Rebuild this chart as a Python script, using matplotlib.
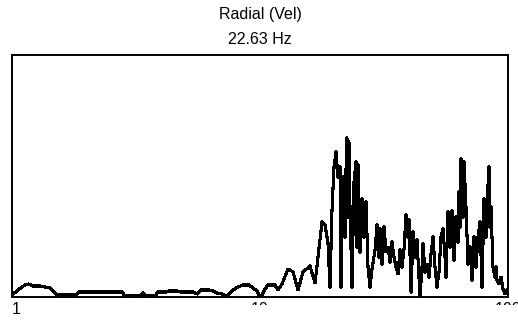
import matplotlib
matplotlib.use('Agg')
import matplotlib.pyplot as plt
from matplotlib.transforms import Bbox

# --------------------------------------------------------------------------------------
# Spectrum data (frequency in Hz, amplitude in velocity units)

freq = [1.00, 1.057, 1.128, 1.171, 1.215, 1.297, 1.359, 1.423, 1.477, 1.519,
        1.812, 1.863, 2.777, 2.856, 3.282, 3.375, 3.470, 3.772, 3.879, 4.178,
        4.296, 4.628, 4.803, 5.368, 5.572, 5.783, 6.228, 6.464, 6.709, 7.028,
        7.294, 7.499, 7.782, 8.153, 8.540, 9.029, 9.372, 9.725, 10.00, 10.19,
        10.48, 10.77, 11.49, 11.82, 12.27, 12.97, 13.59, 14.23, 14.91, 15.91,
        16.67, 17.14, 17.78, 18.29, 18.80, 19.15, 19.51, 19.88, 20.25, 20.63,
        21.02, 21.21, 21.61, 22.01, 22.22, 22.42, 22.63, 22.84, 23.06, 23.49,
        23.93, 24.38, 24.60, 24.84, 25.30, 25.78, 26.26, 26.75, 27.26, 27.76,
        28.29, 29.09, 29.64, 30.19, 30.47, 31.04, 31.62, 32.22, 32.82, 33.44,
        34.07, 34.70, 35.36, 36.02, 36.69, 37.38, 38.08, 38.80, 39.53, 39.90,
        40.65, 41.41, 42.17, 42.96, 43.77, 44.18, 45.01, 45.43, 46.28, 47.15,
        48.03, 48.93, 49.85, 50.78, 51.73, 52.70, 53.68, 54.69, 55.72, 56.23,
        57.29, 58.36, 59.45, 60.57, 61.70, 62.86, 63.45, 64.04, 64.64, 65.85,
        66.47, 67.71, 68.35, 68.99, 70.28, 71.60, 72.94, 74.30, 75.69, 77.11,
        78.55, 80.02, 81.52, 82.28, 83.82, 84.60, 85.39, 86.99, 88.62, 89.44,
        90.27, 91.96, 93.73, 95.46, 97.25, 99.08]

amp = [0.02, 0.07, 0.12, 0.13, 0.11, 0.11, 0.10, 0.09, 0.05, 0.02,
       0.02, 0.05, 0.05, 0.01, 0.01, 0.04, 0.01, 0.01, 0.05, 0.05,
       0.06, 0.06, 0.05, 0.05, 0.03, 0.07, 0.07, 0.06, 0.04, 0.03,
       0.01, 0.03, 0.07, 0.10, 0.12, 0.12, 0.09, 0.06, 0.00, 0.02,
       0.08, 0.12, 0.12, 0.07, 0.13, 0.28, 0.25, 0.07, 0.25, 0.31,
       0.14, 0.40, 0.75, 0.72, 0.54, 0.10, 0.86, 1.30, 1.45, 1.20,
       1.30, 0.10, 1.20, 0.60, 1.27, 1.59, 0.80, 1.55, 0.90, 0.10,
       1.15, 1.35, 0.50, 1.32, 0.45, 0.98, 0.60, 0.95, 0.30, 0.10,
       0.28, 0.47, 0.72, 0.40, 0.68, 0.33, 0.70, 0.45, 0.50, 0.35,
       0.55, 0.40, 0.30, 0.23, 0.47, 0.30, 0.48, 0.82, 0.60, 0.77,
       0.05, 0.65, 0.40, 0.57, 0.20, 0.00, 0.30, 0.53, 0.25, 0.33,
       0.20, 0.43, 0.60, 0.30, 0.10, 0.25, 0.60, 0.68, 0.40, 0.20,
       0.85, 0.50, 0.86, 0.37, 0.80, 0.55, 1.05, 0.70, 1.38, 0.80,
       1.35, 0.90, 0.60, 0.33, 0.50, 0.17, 0.60, 0.30, 0.60, 0.75,
       0.10, 0.98, 0.60, 0.93, 1.30, 0.70, 0.90, 0.30, 0.20, 0.30,
       0.17, 0.13, 0.20, 0.08, 0.03, 0.07]

title_lines = ['Radial (Vel)', '22.63 Hz']
tick_labels = ['1', '10', '100']
tick_values = [1, 10, 100]

# --------------------------------------------------------------------------------------
# Create chart

W, H = 518, 320
fig = plt.figure(figsize=(W / 100, H / 100), dpi=100)
fig.patch.set_facecolor('white')

ax = fig.add_axes([12 / W, 23 / H, 496 / W, 242 / H])
ax.plot(freq, amp, color='black', linewidth=1.5, antialiased=False)

ax.set_xscale('log')
ax.set_xlim(1, 100)
ax.set_ylim(0, 2.42)
ax.set_xticks([])
ax.set_yticks([])
ax.minorticks_off()
for s in ax.spines.values():
    s.set_linewidth(1.4)
    s.set_color('black')

# title, two centred lines
fnt = dict(family='Liberation Sans', size=11.5, color='black', ha='center', va='center')
fig.text(260 / W, 1 - 15 / H, title_lines[0], **fnt)
fig.text(260 / W, 1 - 39 / H, title_lines[1], **fnt)

# decade labels under the frame; only the top of the right ones is left showing
for v, lab in zip(tick_values, tick_labels):
    t = ax.text(v, -0.022, lab, transform=ax.get_xaxis_transform(),
                ha='left' if v == 1 else 'center', va='top',
                family='Liberation Sans', size=11.5, color='black')
    if v != 1:
        t.set_clip_box(Bbox([[0, H - 305], [W, H - 302]]))
        t.set_clip_on(True)

fig.savefig('out.png', dpi=100)
